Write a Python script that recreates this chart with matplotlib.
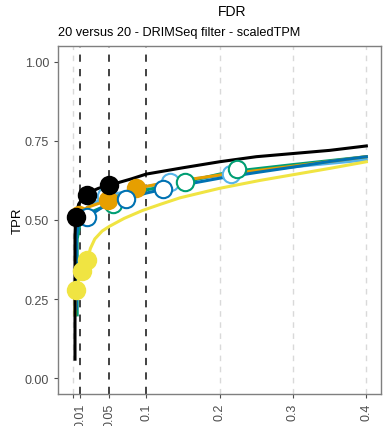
import matplotlib
matplotlib.use("Agg")
import matplotlib.pyplot as plt

plt.rcParams["font.family"] = ["Liberation Sans", "DejaVu Sans"]

# FDR / TPR curves per method
black_fdr = [0.003, 0.003, 0.004, 0.008, 0.015, 0.02, 0.035, 0.05, 0.08, 0.1, 0.15, 0.2, 0.25, 0.3, 0.35, 0.4]
black_tpr = [0.06, 0.45, 0.51, 0.55, 0.575, 0.585, 0.60, 0.61, 0.63, 0.645, 0.665, 0.684, 0.70, 0.71, 0.72, 0.734]

orange_fdr = [0.004, 0.004, 0.008, 0.02, 0.048, 0.086, 0.12, 0.2, 0.3, 0.4]
orange_tpr = [0.30, 0.49, 0.515, 0.54, 0.5625, 0.60, 0.615, 0.642, 0.67, 0.70]

ltblue_fdr = [0.005, 0.005, 0.01, 0.02, 0.045, 0.1, 0.132, 0.2, 0.215, 0.3, 0.4]
ltblue_tpr = [0.25, 0.47, 0.52, 0.54, 0.575, 0.605, 0.62, 0.64, 0.645, 0.668, 0.69]

green_fdr = [0.006, 0.006, 0.01, 0.02, 0.055, 0.1, 0.153, 0.2, 0.224, 0.3, 0.4]
green_tpr = [0.20, 0.44, 0.49, 0.52, 0.555, 0.595, 0.62, 0.645, 0.655, 0.675, 0.70]

blue_fdr = [0.005, 0.005, 0.008, 0.02, 0.04, 0.072, 0.1, 0.123, 0.16, 0.2, 0.25, 0.3, 0.35, 0.4]
blue_tpr = [0.22, 0.45, 0.49, 0.51, 0.54, 0.566, 0.585, 0.597, 0.615, 0.632, 0.65, 0.667, 0.685, 0.70]

yellow_fdr = [0.003, 0.003, 0.004, 0.012, 0.02, 0.024, 0.03, 0.04, 0.05, 0.07, 0.095, 0.12, 0.146, 0.2, 0.255, 0.3, 0.35, 0.4]
yellow_tpr = [0.20, 0.25, 0.28, 0.34, 0.375, 0.41, 0.44, 0.465, 0.48, 0.505, 0.53, 0.55, 0.57, 0.60, 0.625, 0.643, 0.663, 0.684]

# working points at the 0.01 / 0.05 / 0.1 thresholds
black_pt_fdr = [0.004, 0.02, 0.05]
black_pt_tpr = [0.51, 0.58, 0.61]
orange_pt_fdr = [0.008, 0.048, 0.086]
orange_pt_tpr = [0.515, 0.5625, 0.60]
ltblue_pt_fdr = [0.045, 0.132, 0.215]
ltblue_pt_tpr = [0.575, 0.62, 0.645]
green_pt_fdr = [0.055, 0.153, 0.224]
green_pt_tpr = [0.55, 0.62, 0.66]
blue_pt_fdr = [0.02, 0.072, 0.123]
blue_pt_tpr = [0.51, 0.566, 0.597]
yellow_pt_fdr = [0.004, 0.012, 0.02]
yellow_pt_tpr = [0.28, 0.34, 0.375]

thresholds = [0.01, 0.05, 0.1]
x_breaks = [0, 0.01, 0.05, 0.1, 0.2, 0.3, 0.4]
x_labels = ["", "0.01", "0.05", "0.1", "0.2", "0.3", "0.4"]
y_breaks = [0.0, 0.25, 0.5, 0.75, 1.0]
y_labels = ["0.00", "0.25", "0.50", "0.75", "1.00"]

methods = [
    # color, curve x, curve y, point x, point y, filled
    ("#56B4E9", ltblue_fdr, ltblue_tpr, ltblue_pt_fdr, ltblue_pt_tpr, False),
    ("#009E73", green_fdr, green_tpr, green_pt_fdr, green_pt_tpr, False),
    ("#E69F00", orange_fdr, orange_tpr, orange_pt_fdr, orange_pt_tpr, True),
    ("#0072B2", blue_fdr, blue_tpr, blue_pt_fdr, blue_pt_tpr, False),
    ("#F0E442", yellow_fdr, yellow_tpr, yellow_pt_fdr, yellow_pt_tpr, True),
    ("#000000", black_fdr, black_tpr, black_pt_fdr, black_pt_tpr, True),
]

fig = plt.figure(figsize=(3.9, 4.27), dpi=100)
ax = fig.add_axes([0.149, 0.075, 0.828, 0.815])

# grid lines and threshold lines
for x in [0, 0.2, 0.3, 0.4]:
    ax.axvline(x, color="#d9d9d9", lw=1.0, ls=(0, (4, 4)), zorder=0)
for x in thresholds:
    ax.axvline(x, color="#333333", lw=1.3, ls=(0, (4, 4)), zorder=1)

for col, fx, ty, px, py, filled in methods:
    ax.plot(fx, ty, color=col, lw=2.2, zorder=2, solid_joinstyle="round")
for col, fx, ty, px, py, filled in methods:
    ax.plot(px, py, "o", ms=12.5, mec=col, mew=1.5,
            mfc=col if filled else "white", ls="none", zorder=3)

ax.set_xlim(-0.02, 0.42)
ax.set_ylim(-0.05, 1.05)
ax.set_xticks(x_breaks)
ax.set_xticklabels(x_labels, rotation=90, color="#4d4d4d", fontsize=9)
ax.set_yticks(y_breaks)
ax.set_yticklabels(y_labels, color="#4d4d4d", fontsize=9)
ax.tick_params(colors="#4d4d4d", length=3, width=0.8)
for s in ax.spines.values():
    s.set_color("#7f7f7f")
    s.set_linewidth(1.0)

ax.set_ylabel("TPR", fontsize=9.5, labelpad=1)
fig.text(0.595, 0.972, "FDR", fontsize=10, ha="center", va="center")
fig.text(0.149, 0.923, "20 versus 20 - DRIMSeq filter - scaledTPM", fontsize=9.2,
         ha="left", va="center")

fig.savefig("out.png", dpi=100)
